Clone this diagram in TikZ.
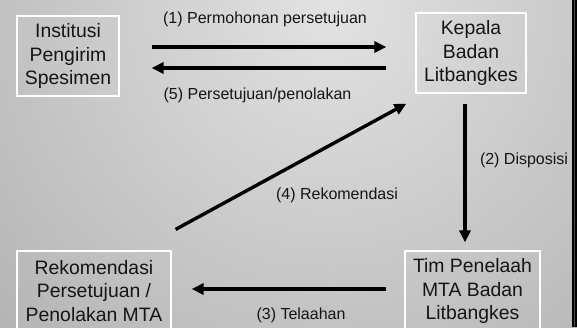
\documentclass[tikz,border=0pt]{standalone}
\usepackage{fontspec}
\setmainfont{Liberation Sans}
\usetikzlibrary{arrows.meta}
\definecolor{bginner}{HTML}{E2E2E2}
\definecolor{bgouter}{HTML}{929292}
\definecolor{txt}{HTML}{151515}
\tikzset{
  box/.style={draw=white, line width=1.2pt, inner sep=0pt, align=center,
    text=txt, font=\fontsize{19.4}{23.3}\selectfont, minimum height=80pt},
  lbl/.style={text=txt, inner sep=0pt, font=\fontsize{16}{19}\selectfont},
  arr/.style={line width=3.4pt, -{Triangle[length=12pt,width=11pt]}}
}
\begin{document}
\begin{tikzpicture}[x=1pt,y=-1pt]
\useasboundingbox (0,0) rectangle (577,327);
\begin{scope}
\clip (0,0) rectangle (577,327);
\shade[inner color=bginner, outer color=bgouter] (330,10) circle (800);
\fill[black] (571.5,0) rectangle (577,327);
\draw[gray!60!black, line width=0.6pt] (573.8,0) -- (573.8,327);
\node[box, minimum width=102pt] (inst) at (68,56) {Institusi\\Pengirim\\Spesimen};
\node[box, minimum width=110pt] (kep) at (471,53) {Kepala\\Badan\\Litbangkes};
\node[box, minimum width=154pt] (rek) at (94,291) {Rekomendasi\\Persetujuan /\\Penolakan MTA};
\node[box, minimum width=135pt] (tim) at (472.5,291) {Tim Penelaah\\MTA Badan\\Litbangkes};
% arrows
\draw[arr, shorten <=32pt, shorten >=29pt] ([yshift=9pt]inst.east) -- ([yshift=9pt]inst.east -| kep.west);
\draw[arr, shorten <=29pt, shorten >=32pt] ([yshift=-12pt]inst.east -| kep.west) -- ([yshift=-12pt]inst.east);
\draw[arr, shorten <=10pt, shorten >=8pt] ([xshift=-6pt]kep.south) -- ([xshift=-6pt]kep.south |- tim.north);
\draw[arr, shorten <=18pt, shorten >=20pt] ([yshift=2pt]tim.west) -- ([yshift=2pt]tim.west -| rek.east);
\draw[arr] ([shift={(4pt,21pt)}]rek.north east) -- ([shift={(-9pt,-10pt)}]kep.south west);
% labels
\node[lbl] (l1) at (265,19) {(1) Permohonan persetujuan};
\node[lbl] (l5) at (257.5,95) {(5) Persetujuan/penolakan};
\node[lbl] (l2) at (524,160) {(2) Disposisi};
\node[lbl] (l4) at (337,195) {(4) Rekomendasi};
\node[lbl] (l3) at (301,315) {(3) Telaahan};
\end{scope}
\end{tikzpicture}
\end{document}
